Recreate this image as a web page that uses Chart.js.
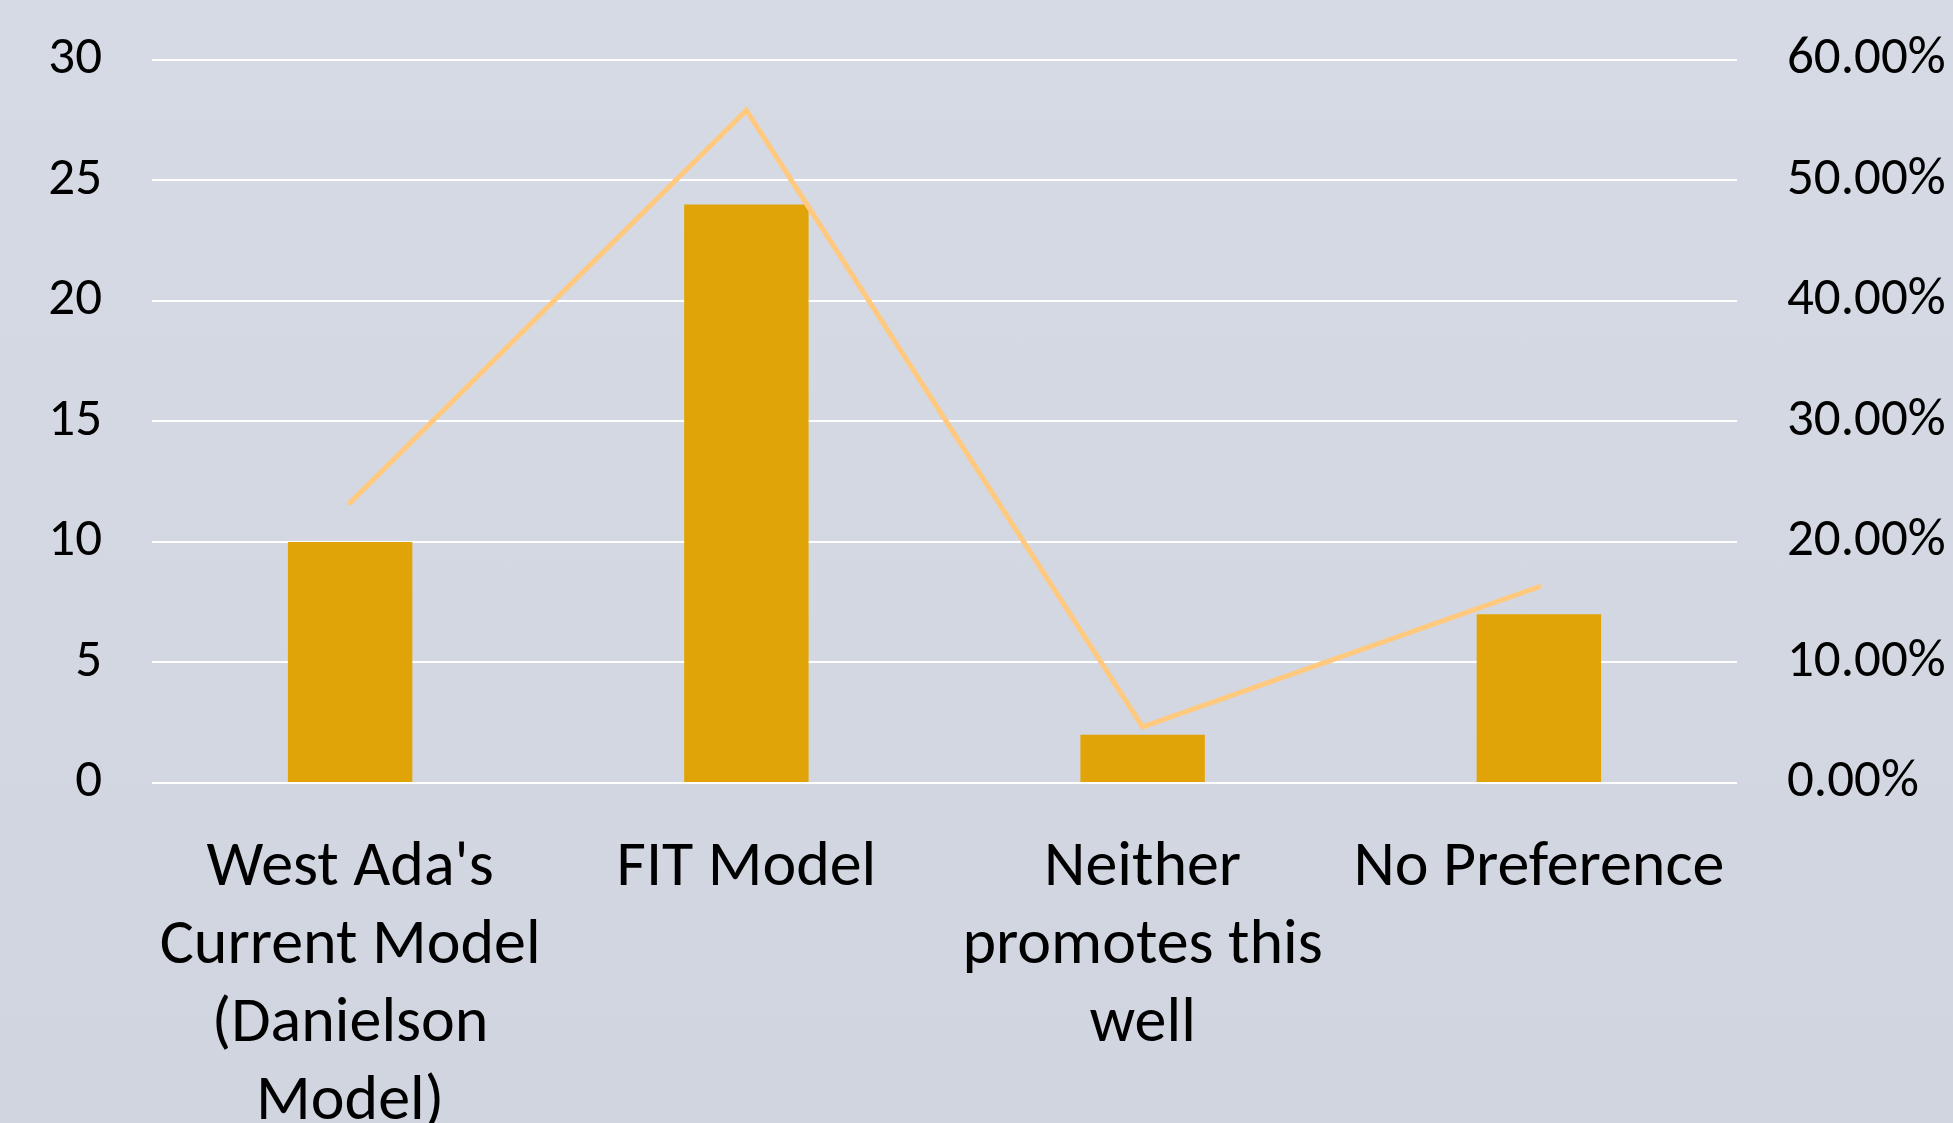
<!DOCTYPE html>
<html>
<head>
<meta charset="utf-8">
<script src="https://cdn.jsdelivr.net/npm/chart.js@4"></script>
<style>
  html, body { margin: 0; padding: 0; }
  body {
    width: 1953px; height: 1123px; overflow: hidden;
    background: linear-gradient(180deg, #d6dae4 0%, #d1d5e0 100%);
  }
  canvas { display: block; margin-top: -22px; }
</style>
</head>
<body>
<canvas id="myChart" width="1953" height="1145"></canvas>
<script>
// categorias (rótulos em várias linhas)
var categorias = [
  ["West Ada's", 'Current Model', '(Danielson', 'Model)'],
  'FIT Model',
  ['Neither', 'promotes this', 'well'],
  'No Preference'
];
var contagens = [10, 24, 2, 7];
var percentuais = [0.2326, 0.5581, 0.0465, 0.1628];
var ticksEsquerda = [0, 5, 10, 15, 20, 25, 30];
var ticksDireita = [0, 0.1, 0.2, 0.3, 0.4, 0.5, 0.6];

var fonte = "Carlito, Calibri, Lato, sans-serif";

var ctx = document.getElementById('myChart').getContext('2d');
var myChart = new Chart(ctx, {
  type: 'bar',
  data: {
    labels: categorias,
    datasets: [{
      type: 'line',
      label: 'Percent',
      data: percentuais,
      yAxisID: 'y1',
      borderColor: '#ffc97f',
      borderWidth: 5,
      borderCapStyle: 'round',
      pointRadius: 0,
      tension: 0,
      order: 0
    }, {
      type: 'bar',
      label: 'Count',
      data: contagens,
      yAxisID: 'y',
      backgroundColor: '#e1a408',
      categoryPercentage: 1,
      barPercentage: 0.314,
      order: 1
    }]
  },
  options: {
    responsive: false,
    animation: false,
    layout: { padding: 0 },
    plugins: {
      legend: { display: false },
      tooltip: { enabled: false }
    },
    scales: {
      x: {
        grid: { display: false, drawTicks: false },
        border: { display: false },
        ticks: {
          color: '#000',
          font: { family: fonte, size: 64, lineHeight: 1.22 },
          padding: 47,
          maxRotation: 0,
          autoSkip: false
        },
        afterFit: function (s) { s.height = 340; }
      },
      y: {
        position: 'left',
        min: 0, max: 30,
        afterBuildTicks: function (s) { s.ticks = ticksEsquerda.map(v => ({ value: v })); },
        grid: { color: '#ffffff', lineWidth: 2, drawTicks: false },
        border: { display: false },
        ticks: {
          color: '#000',
          font: { family: fonte, size: 53 },
          padding: 50
        },
        afterFit: function (s) { s.width = 152; }
      },
      y1: {
        position: 'right',
        min: 0, max: 0.6,
        afterBuildTicks: function (s) { s.ticks = ticksDireita.map(v => ({ value: v })); },
        grid: { display: false, drawTicks: false },
        border: { display: false },
        ticks: {
          color: '#000',
          font: { family: fonte, size: 53 },
          padding: 50,
          callback: function (v) { return (v * 100).toFixed(2) + '%'; }
        },
        afterFit: function (s) { s.width = 216; }
      }
    }
  }
});
</script>
</body>
</html>
